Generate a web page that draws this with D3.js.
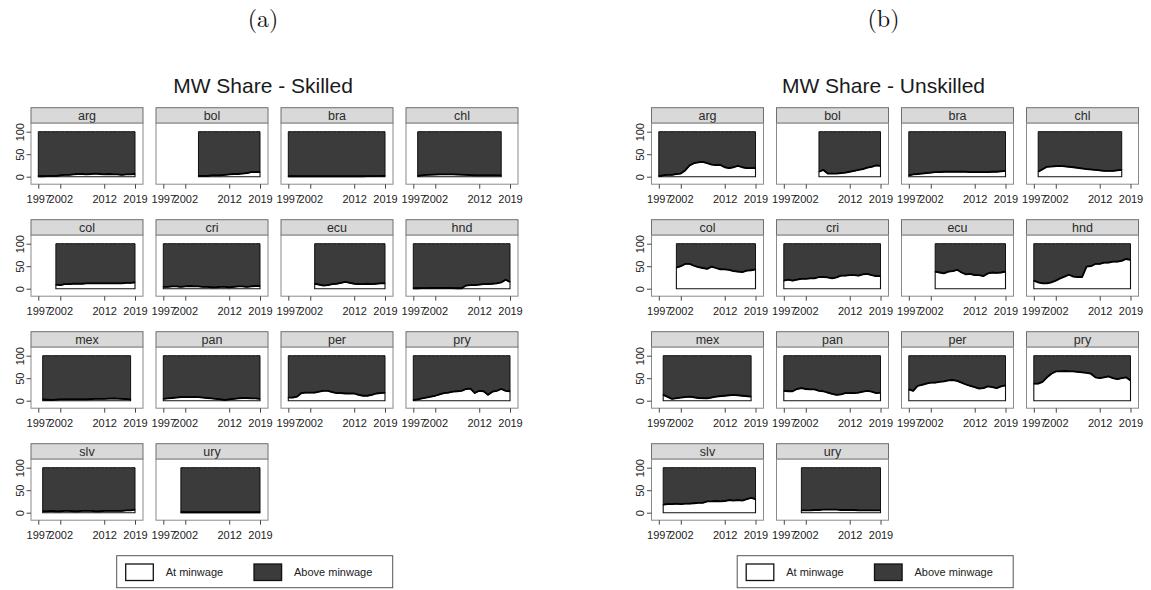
<!DOCTYPE html>
<html>
<head>
<meta charset="utf-8">
<script src="https://cdn.jsdelivr.net/npm/d3@7"></script>
<style>
  body { margin: 0; background: #fff; }
  text { font-family: "Liberation Sans", Arial, sans-serif; }
</style>
</head>
<body>
<svg id="chart" width="1151" height="590"></svg>
<script>
// ---- data: share of workers earning the minimum wage (%), by country and survey year
const countries = ["arg", "bol", "bra", "chl", "col", "cri", "ecu", "hnd",
                   "mex", "pan", "per", "pry", "slv", "ury"];

const years = [
  [1997,1998,1999,2000,2001,2002,2003,2004,2005,2006,2007,2008,2009,2010,2011,2012,2013,2014,2015,2016,2017,2018,2019],
  [2005,2006,2007,2008,2009,2010,2011,2012,2013,2014,2015,2016,2017,2018,2019],
  [1997,1998,1999,2000,2001,2002,2003,2004,2005,2006,2007,2008,2009,2010,2011,2012,2013,2014,2015,2016,2017,2018,2019],
  [1998,2000,2003,2006,2009,2011,2013,2015,2017],
  [2001,2002,2003,2004,2005,2006,2007,2008,2009,2010,2011,2012,2013,2014,2015,2016,2017,2018,2019],
  [1997,1998,1999,2000,2001,2002,2003,2004,2005,2006,2007,2008,2009,2010,2011,2012,2013,2014,2015,2016,2017,2018,2019],
  [2003,2004,2005,2006,2007,2008,2009,2010,2011,2012,2013,2014,2015,2016,2017,2018,2019],
  [1997,1998,1999,2000,2001,2002,2003,2004,2005,2006,2007,2008,2009,2010,2011,2012,2013,2014,2015,2016,2017,2018,2019],
  [1998,2000,2002,2004,2006,2008,2010,2012,2014,2016,2018],
  [1997,1998,1999,2000,2001,2002,2003,2004,2005,2006,2007,2008,2009,2010,2011,2012,2013,2014,2015,2016,2017,2018,2019],
  [1997,1998,1999,2000,2001,2002,2003,2004,2005,2006,2007,2008,2009,2010,2011,2012,2013,2014,2015,2016,2017,2018,2019],
  [1997,1998,1999,2000,2001,2002,2003,2004,2005,2006,2007,2008,2009,2010,2011,2012,2013,2014,2015,2016,2017,2018,2019],
  [1998,1999,2000,2001,2002,2003,2004,2005,2006,2007,2008,2009,2010,2011,2012,2013,2014,2015,2016,2017,2018,2019],
  [2001,2002,2003,2004,2005,2006,2007,2008,2009,2010,2011,2012,2013,2014,2015,2016,2017,2018,2019]
];

const skilledShare = [
  [1,1,1.5,2,2,3,4,4,5,6,6,5,6,7,6,5,6,5,5,4,5,5,6],
  [2,2,2,3,3,3,4,5,6,6,7,8,10,10,10],
  [1,1,1,1,1,1,1,1,1,1,1,1,1,1,1,1,1,1,1.5,1.5,1.5,2,2],
  [2,4,5,5,4,3,3,3,3],
  [9,8,10,10,11,11,11,12,12,12,12,12,12,12,12,12,13,13,14],
  [4,4,5,5,4,5,6,5,5,4,4,3,3,4,4,3,4,5,5,4,5,6,6],
  [11,9,7,8,10,11,13,15,13,11,10,10,11,10,11,12,12],
  [1,1,1.5,1.5,2,2,2,2,2,1.5,1,1,7,8,8,9,10,10,11,12,14,20,15],
  [3,2,3,3,3,3,4,4,5,4,3],
  [4,5,6,7,8,8,8,8,8,7,6,5,4,3,2,3,4,5,6,6,5,5,4],
  [7,7,9,17,18,18,18,20,22,22,19,17,17,16,16,16,13,11,11,13,16,17,18],
  [2,3,5,7,9,11,14,17,18,20,21,22,26,27,17,22,21,13,20,22,26,22,21],
  [3,3,4,3,3,4,4,3,3,4,4,4,3,3,4,4,4,4,4,5,5,7],
  [1,1,1,1,1,1,1,1,1,1,1,1,1,1,1,1,1,1,1]
];

const unskilledShare = [
  [1.5,3,4,4,6,7,14,25,30,32,33,30,27,26,26,21,19,21,24,21,19,19,19],
  [11,15,7,7,7,8,9,11,13,15,17,20,22,25,24],
  [3,5,6,7,8,9,10,10,11,11,11,11,11,11,10,10,10,10,10,11,11,12,13],
  [11,22,24,21,17,15,13,13,15],
  [47,50,55,55,51,48,46,44,49,46,43,43,42,39,38,37,40,41,43],
  [18,20,18,20,22,22,23,23,26,26,25,23,25,29,29,30,30,29,32,33,30,28,28],
  [38,36,34,38,39,42,36,32,33,30,30,28,34,36,35,36,38],
  [18,14,12,12,14,18,23,27,31,27,26,26,49,50,55,55,58,58,60,60,62,66,64],
  [13,4,7,9,6,5,9,11,13,11,9],
  [22,21,21,26,28,26,25,25,22,21,18,15,13,14,17,17,17,18,20,22,20,17,18],
  [25,22,33,35,38,40,40,42,43,45,46,44,40,36,33,30,27,28,32,30,28,32,34],
  [38,38,42,52,60,65,65,66,65,65,64,63,62,60,52,50,52,54,50,48,50,52,45],
  [18,19,19,20,19,20,20,21,22,22,25,25,26,25,26,28,27,28,27,30,33,30],
  [5,5,5,6,6,7,7,7,7,6,6,6,6,5,5,5,5,5,5]
];

const panelLabels = ["(a)", "(b)"];
const panelTitles = ["MW Share - Skilled", "MW Share - Unskilled"];
const xTickValues = [1997, 2002, 2012, 2019];
const yTickValues = [0, 50, 100];
const legendLabels = ["At minwage", "Above minwage"];

// ---- layout
const panelOffsets = [0, 620.5];
const gridLeft = 31, colStep = 125, gridTop = 107.7, rowStep = 112;
const facetW = 112, stripH = 15.5, boxH = 61;
const nCols = 4;

const fillAbove = "#3b3b3b";
const stripFill = "#d9d9d9";

const svg = d3.select("#chart");

function drawPanel(p, shares) {
  const ox = panelOffsets[p];
  const g = svg.append("g").attr("class", "panel");

  // panel letter
  g.append("text")
    .attr("x", 263 + ox).attr("y", 26.5)
    .attr("text-anchor", "middle")
    .style("font-family", "'Latin Modern Roman','DejaVu Serif','Liberation Serif',serif")
    .style("font-size", "24px")
    .attr("fill", "#111")
    .text(panelLabels[p]);

  // graph title
  g.append("text")
    .attr("x", 263 + ox).attr("y", 93.3)
    .attr("text-anchor", "middle")
    .style("font-size", "21px")
    .attr("fill", "#1a1a1a")
    .text(panelTitles[p]);

  countries.forEach((c, i) => {
    const col = i % nCols, row = Math.floor(i / nCols);
    const L = gridLeft + col * colStep + ox;
    const T = gridTop + row * rowStep;
    const boxTop = T + stripH, boxBottom = boxTop + boxH;

    const x = d3.scaleLinear().domain([1997, 2019]).range([L + 7.3, L + 104]);
    const y = d3.scaleLinear().domain([0, 100]).range([boxTop + 53.5, boxTop + 8.5]);

    const fg = g.append("g").attr("class", "facet");

    // header strip
    fg.append("rect")
      .attr("x", L).attr("y", T).attr("width", facetW).attr("height", stripH)
      .attr("fill", stripFill).attr("stroke", "#6e6e6e").attr("stroke-width", 1);
    fg.append("text")
      .attr("x", L + facetW / 2).attr("y", T + 11.8)
      .attr("text-anchor", "middle")
      .style("font-size", "12.5px")
      .attr("fill", "#2a2a2a")
      .text(c);

    // plot region
    fg.append("rect")
      .attr("x", L).attr("y", boxTop).attr("width", facetW).attr("height", boxH)
      .attr("fill", "#fff").attr("stroke", "#8a8a8a").attr("stroke-width", 1);

    const pts = years[i].map((yr, k) => ({ year: yr, v: shares[i][k] }));

    // share above the minimum wage (stacked on top, up to 100)
    const areaAbove = d3.area()
      .x(d => x(d.year)).y0(d => y(d.v)).y1(() => y(100));
    fg.append("path").datum(pts)
      .attr("d", areaAbove)
      .attr("fill", fillAbove).attr("stroke", "#111").attr("stroke-width", 1);

    // share at the minimum wage
    const areaAt = d3.area()
      .x(d => x(d.year)).y0(() => y(0)).y1(d => y(d.v));
    fg.append("path").datum(pts)
      .attr("d", areaAt)
      .attr("fill", "#fff").attr("stroke", "#111").attr("stroke-width", 1.1);

    // boundary between the two series
    fg.append("path").datum(pts)
      .attr("d", d3.line().x(d => x(d.year)).y(d => y(d.v)))
      .attr("fill", "none").attr("stroke", "#000").attr("stroke-width", 1.8)
      .attr("stroke-linejoin", "round");

    // x axis
    const xa = fg.append("g")
      .attr("transform", `translate(0,${boxBottom})`)
      .call(d3.axisBottom(x).tickValues(xTickValues).tickFormat(d3.format("d"))
        .tickSize(4.5).tickPadding(6.4));
    xa.select(".domain").remove();
    xa.selectAll("line").attr("stroke", "#444");
    xa.selectAll("text")
      .style("font-family", "'Liberation Sans', Arial, sans-serif")
      .style("font-size", "11px").attr("fill", "#222");

    // y axis on the first column only
    if (col === 0) {
      const ya = fg.append("g")
        .attr("transform", `translate(${L},0)`)
        .call(d3.axisLeft(y).tickValues(yTickValues).tickSize(4.5));
      ya.select(".domain").remove();
      ya.selectAll("line").attr("stroke", "#444");
      ya.selectAll("text")
        .attr("x", 0).attr("y", -7.5).attr("dy", null)
        .attr("transform", "rotate(-90)")
        .attr("text-anchor", "middle")
        .style("font-family", "'Liberation Sans', Arial, sans-serif")
        .style("font-size", "11px").attr("fill", "#222");
    }
  });

  // legend
  const lx = 116.7 + ox, ly = 555.7;
  const lg = g.append("g").attr("class", "legend");
  lg.append("rect")
    .attr("x", lx).attr("y", ly).attr("width", 276).attr("height", 32)
    .attr("fill", "#fff").attr("stroke", "#555").attr("stroke-width", 1);
  const swatchX = [lx + 9, lx + 137.3];
  const swatchFill = ["#fff", fillAbove];
  legendLabels.forEach((lab, k) => {
    lg.append("rect")
      .attr("x", swatchX[k]).attr("y", ly + 8.3).attr("width", 27.6).attr("height", 16.5)
      .attr("fill", swatchFill[k]).attr("stroke", "#111").attr("stroke-width", 1.3);
    lg.append("text")
      .attr("x", swatchX[k] + 40).attr("y", ly + 20.5)
      .style("font-size", "11px").attr("fill", "#222")
      .text(lab);
  });
}

drawPanel(0, skilledShare);
drawPanel(1, unskilledShare);
</script>
</body>
</html>
